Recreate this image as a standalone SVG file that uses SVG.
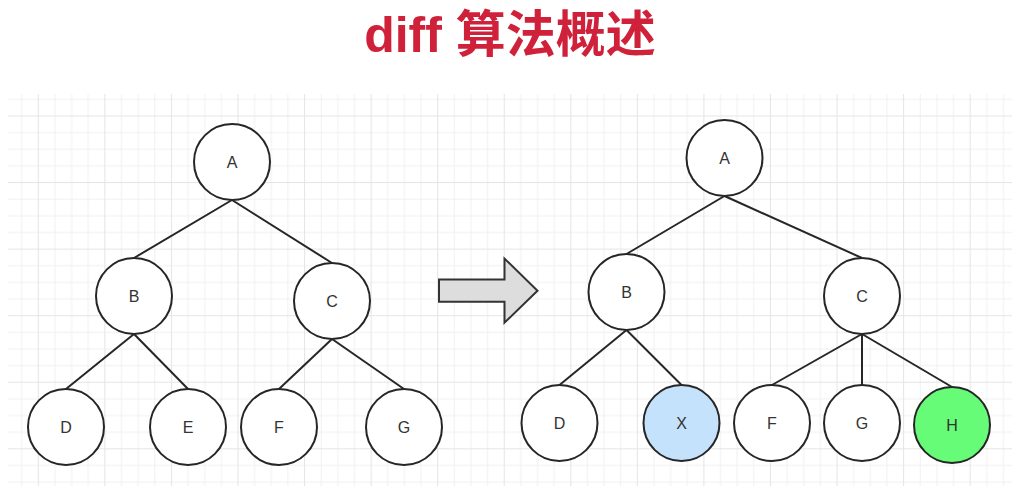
<svg xmlns="http://www.w3.org/2000/svg" width="1024" height="498" viewBox="0 0 1024 498">
<style>
.node circle{fill:#ffffff;stroke:#262626;stroke-width:2}
.node text{font-family:"Liberation Sans",Arial,sans-serif;font-size:16px;fill:#333333;text-anchor:middle}
.edge{stroke:#262626;stroke-width:2;fill:none}
.title{font-family:"Liberation Sans","Noto Sans CJK SC",sans-serif;font-weight:700;font-size:50px;fill:#d0213b;text-anchor:middle}
</style>
<defs>
<pattern id="grid" patternUnits="userSpaceOnUse" x="37.8" y="115.5" width="66.56" height="66.56">
<rect x="0" y="0" width="66.56" height="66.56" fill="#ffffff"/>
<g fill="#f1f1f1">
<rect x="16.64" y="0" width="1" height="66.56"/>
<rect x="33.28" y="0" width="1" height="66.56"/>
<rect x="49.92" y="0" width="1" height="66.56"/>
<rect x="0" y="16.64" width="66.56" height="1"/>
<rect x="0" y="33.28" width="66.56" height="1"/>
<rect x="0" y="49.92" width="66.56" height="1"/>
</g>
<g fill="#e5e5e5">
<rect x="0" y="0" width="1" height="66.56"/>
<rect x="0" y="0" width="66.56" height="1"/>
</g>
</pattern>
</defs>
<rect x="0" y="0" width="1024" height="498" fill="#ffffff"/>
<rect x="8" y="94" width="1004" height="392" fill="url(#grid)"/>
<text class="title" x="510" y="52">diff 算法概述</text>

<g id="connectors">
<line class="edge" x1="232" y1="200" x2="134" y2="258"/>
<line class="edge" x1="232" y1="200" x2="332" y2="263"/>
<line class="edge" x1="134" y1="334" x2="66" y2="389"/>
<line class="edge" x1="134" y1="334" x2="188" y2="389"/>
<line class="edge" x1="332" y1="339" x2="279" y2="389"/>
<line class="edge" x1="332" y1="339" x2="404" y2="389"/>
<line class="edge" x1="724.5" y1="196" x2="626.5" y2="254"/>
<line class="edge" x1="724.5" y1="196" x2="862" y2="258"/>
<line class="edge" x1="626.5" y1="330" x2="559.5" y2="385"/>
<line class="edge" x1="626.5" y1="330" x2="681.5" y2="385"/>
<line class="edge" x1="862" y1="334" x2="772" y2="385"/>
<line class="edge" x1="862" y1="334" x2="862" y2="385"/>
<line class="edge" x1="862" y1="334" x2="952" y2="387"/>
</g>

<g id="arrow">
<polygon points="439,279.5 504.5,279.5 504.5,258.5 537.5,290.7 504.5,322.7 504.5,301.7 439,301.7" fill="#dddddd" stroke="#333333" stroke-width="2" stroke-linejoin="miter"/>
</g>

<g id="L-A" class="node"><circle cx="232" cy="162" r="38"/><text x="232" y="167.7">A</text></g>
<g id="L-B" class="node"><circle cx="134" cy="296" r="38"/><text x="134" y="301.7">B</text></g>
<g id="L-C" class="node"><circle cx="332" cy="301" r="38"/><text x="332" y="306.7">C</text></g>
<g id="L-D" class="node"><circle cx="66" cy="427" r="38"/><text x="66" y="432.7">D</text></g>
<g id="L-E" class="node"><circle cx="188" cy="427" r="38"/><text x="188" y="432.7">E</text></g>
<g id="L-F" class="node"><circle cx="279" cy="427" r="38"/><text x="279" y="432.7">F</text></g>
<g id="L-G" class="node"><circle cx="404" cy="427" r="38"/><text x="404" y="432.7">G</text></g>

<g id="R-A" class="node"><circle cx="724.5" cy="158" r="38"/><text x="724.5" y="163.7">A</text></g>
<g id="R-B" class="node"><circle cx="626.5" cy="292" r="38"/><text x="626.5" y="297.7">B</text></g>
<g id="R-C" class="node"><circle cx="862" cy="296" r="38"/><text x="862" y="301.7">C</text></g>
<g id="R-D" class="node"><circle cx="559.5" cy="423" r="38"/><text x="559.5" y="428.7">D</text></g>
<g id="R-X" class="node"><circle cx="681.5" cy="423" r="38" style="fill:#c4e2fc"/><text x="681.5" y="428.7">X</text></g>
<g id="R-F" class="node"><circle cx="772" cy="423" r="38"/><text x="772" y="428.7">F</text></g>
<g id="R-G" class="node"><circle cx="862" cy="423" r="38"/><text x="862" y="428.7">G</text></g>
<g id="R-H" class="node"><circle cx="952" cy="425" r="38" style="fill:#66fc78"/><text x="952" y="430.7">H</text></g>
</svg>
